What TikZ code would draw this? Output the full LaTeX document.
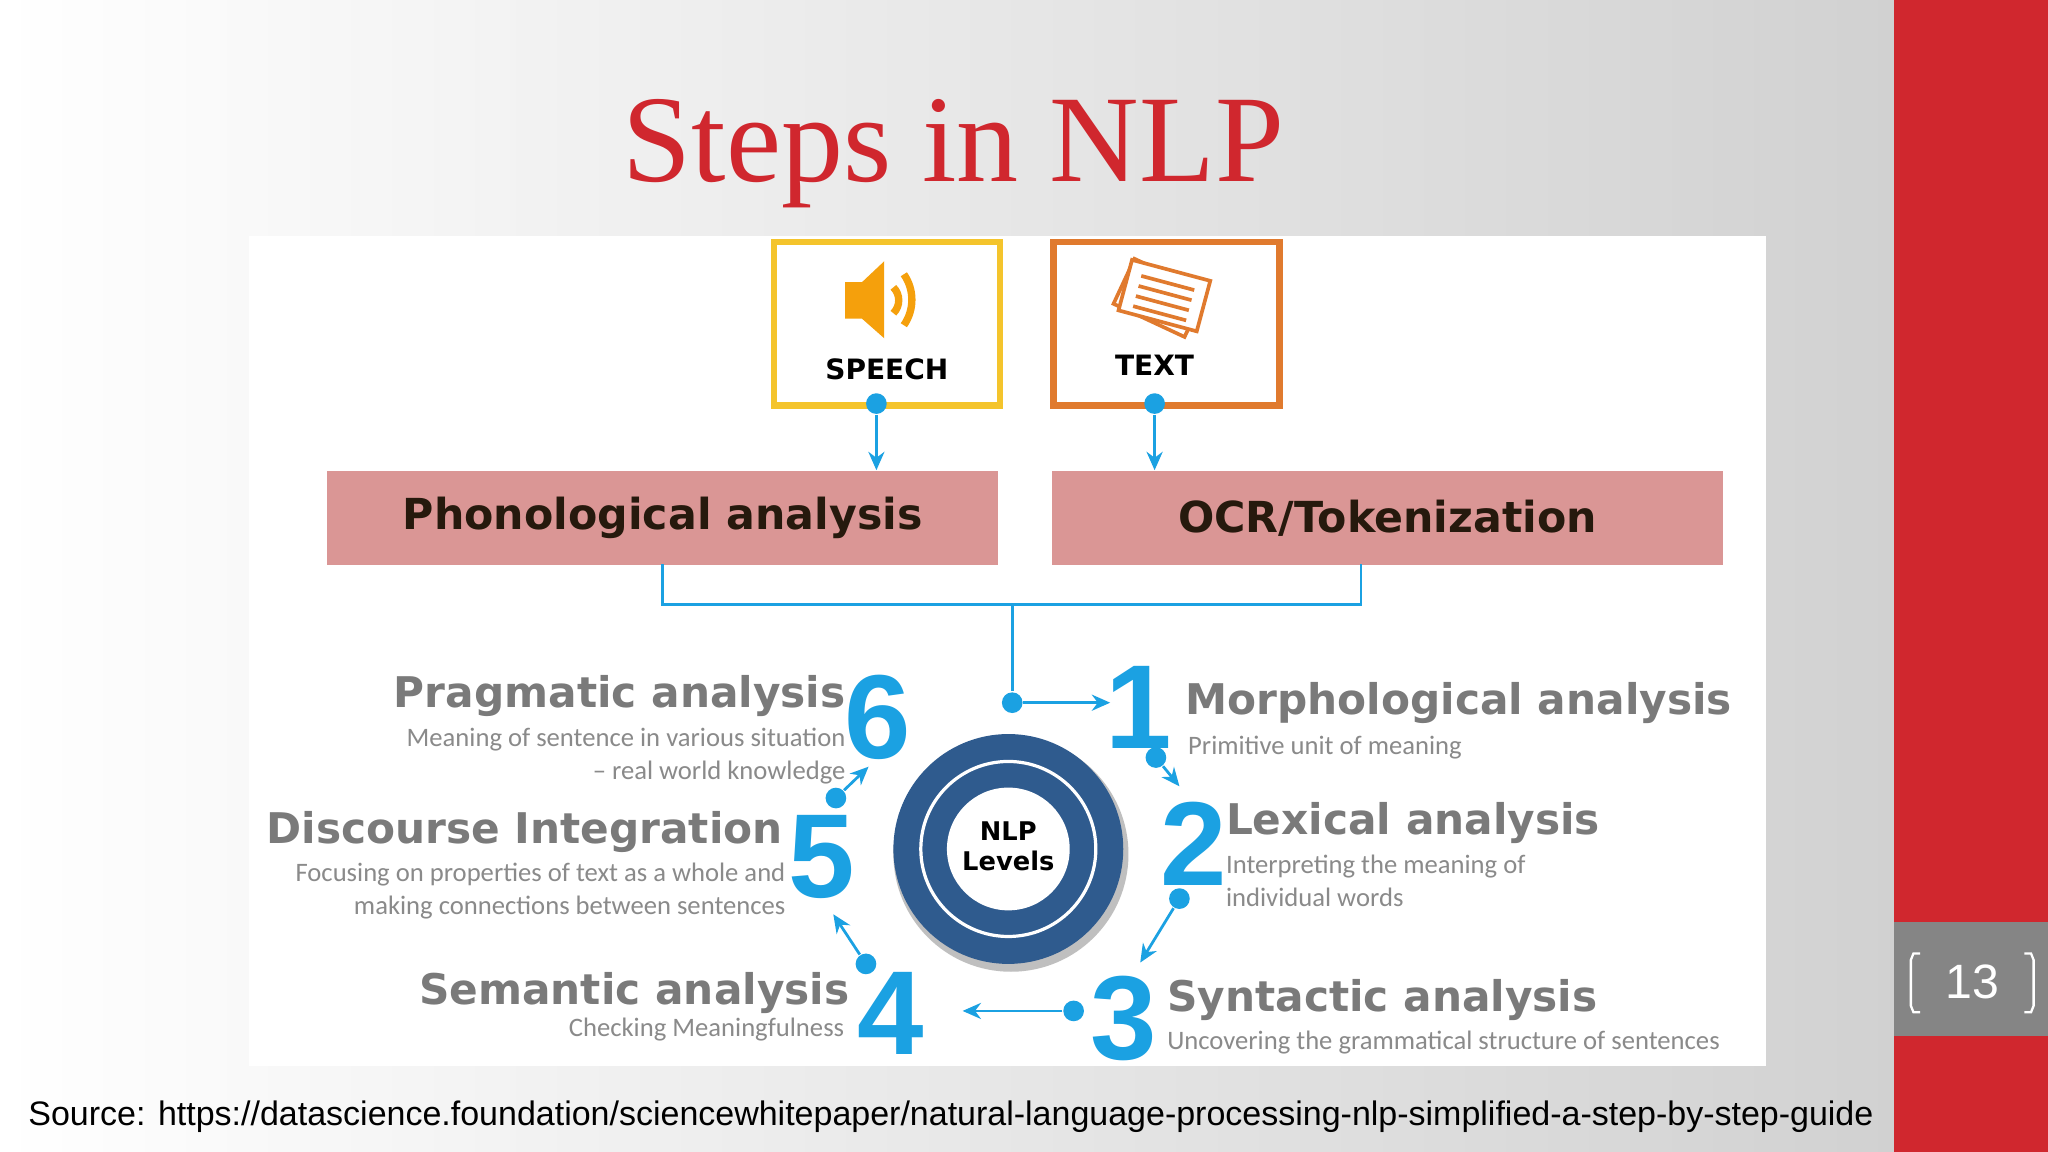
\documentclass[tikz,border=0pt]{standalone}
\usepackage{fontspec}
\setmainfont{Liberation Sans}
\newfontfamily\titlefont{Liberation Serif}
\newfontfamily\headfont{DejaVu Sans}
\newfontfamily\subfont{Carlito}
\usetikzlibrary{arrows.meta}
\definecolor{redbar}{HTML}{D0272E}
\definecolor{nlpblue}{HTML}{1BA1E2}
\definecolor{ring}{HTML}{2F5B8E}
\definecolor{pinkbox}{HTML}{DA9695}
\definecolor{headgray}{HTML}{7A7A7A}
\definecolor{subgray}{HTML}{8A8A8A}
\definecolor{speechy}{HTML}{F4C42C}
\definecolor{texto}{HTML}{E07A2E}
\definecolor{iconor}{HTML}{F5A00C}
\tikzset{
  conn/.style={nlpblue, line width=0.6pt},
  arr/.style={conn, -{Stealth[length=4pt,width=3.5pt]}},
  dotc/.style={circle, fill=nlpblue, inner sep=0pt, minimum size=4.5pt},
  num/.style={nlpblue, font=\bfseries\fontsize{26}{26}\selectfont, inner sep=0pt},
  head/.style={headgray, font=\headfont\bfseries\fontsize{9.2}{10}\selectfont, inner sep=0pt},
  sub/.style={subgray, font=\subfont\fontsize{5.8}{7.2}\selectfont, inner sep=0pt},
  pbox/.style={fill=pinkbox, inner sep=0pt, minimum width=5.13cm, minimum height=0.72cm, font=\headfont\bfseries\fontsize{9.3}{10}\selectfont, text=black!80!brown},
  inbox/.style={line width=1.4pt, inner sep=0pt, minimum width=1.73cm, minimum height=1.25cm, anchor=north west},
}
\begin{document}
\begin{tikzpicture}[x=0.01cm,y=-0.01cm]
\useasboundingbox (0,0) rectangle (1568,882);
\shade[left color=white, right color=black!18] (0,0) rectangle (1450,882);
\fill[redbar] (1450,0) rectangle (1568,882);
\fill[black!48] (1450,706) rectangle (1568,793);
\node[white, font=\fontsize{10.5}{11}\selectfont] (pg) at (1510,752) {13};
\draw[white, line width=0.5pt] (1470,730) -- (1465,730) -- (1463,735) -- (1463,770) -- (1465,775) -- (1470,775);
\draw[white, line width=0.5pt] (1550,730) -- (1555,730) -- (1557,735) -- (1557,770) -- (1555,775) -- (1550,775);
\node[redbar, font=\titlefont\fontsize{27}{28}\selectfont] (title) at (730,118) {Steps in NLP};
\fill[white] (191,181) rectangle (1352,816);
% input boxes
\node[draw=speechy, inbox] (speech) at (590,183) {};
\node[font=\headfont\bfseries\fontsize{6.1}{7}\selectfont] (speecht) at (679,283) {SPEECH};
\node[draw=texto, inbox] (text) at (804,183) {};
\node[font=\headfont\bfseries\fontsize{6.1}{7}\selectfont] (textt) at (884,280) {TEXT};
% speaker icon
\fill[iconor] (647,216) -- (660,216) -- (677,200) -- (677,259) -- (660,244) -- (647,244) -- cycle;
\draw[iconor, line width=1.6pt] (684,220) arc[start angle=135, end angle=225, radius=-14];
\draw[iconor, line width=1.6pt] (692,210) arc[start angle=145, end angle=215, radius=-34];
% text icon
\begin{scope}[shift={(890,228)}, rotate=-15]
  \draw[texto, fill=white, line width=0.8pt, rotate=-10] (-32,-18) rectangle (28,20);
  \draw[texto, fill=white, line width=0.8pt] (-30,-22) rectangle (32,18);
  \foreach \yy in {-12,-4,4,12} \draw[texto, line width=0.8pt] (-20,\yy) -- (22,\yy);
\end{scope}
% pink boxes
\node[pbox, anchor=north west] (phon) at (250,360) {Phonological analysis};
\node[pbox, anchor=north west] (ocr) at (805,360) {OCR/Tokenization};
\node[dotc] (d1) at (671,309) {};
\node[dotc] (d2) at (884,309) {};
\draw[arr] (d1) -- (phon.north -| d1);
\draw[arr] (d2) -- (ocr.north -| d2);
\coordinate (pb) at (507,432);
\coordinate (ob) at (1042,432);
\coordinate (jn) at (775,463);
\draw[conn] (pb) |- (jn) -| (ob);
\node[dotc] (d3) at (775,538) {};
\coordinate (e1) at (850,538);
\draw[conn] (jn) -- (d3);
\draw[arr] (d3) -- (e1);
% circle
\fill[black!25] (774,654) circle (90);
\fill[ring] (772,650) circle (88);
\draw[white, line width=0.7pt] (772,650) circle (67);
\fill[white] (772,650) circle (47);
\node[font=\headfont\bfseries\fontsize{5.6}{6.6}\selectfont, align=center] (nlp) at (772,648) {NLP\\Levels};
% numbers
\node[num] (n1) at (872,542) {1};
\node[num] (n2) at (914,646) {2};
\node[num] (n3) at (860,780) {3};
\node[num] (n4) at (682,776) {4};
\node[num] (n5) at (629,656) {5};
\node[num] (n6) at (672,549) {6};
% headings
\node[head, anchor=west] (h1) at (907,538) {Morphological analysis};
\node[sub, anchor=west] (s1) at (909,572) {Primitive unit of meaning};
\node[head, anchor=west] (h2) at (938,630) {Lexical analysis};
\node[sub, anchor=north west, align=left] (s2) at (938,654) {Interpreting the meaning of\\individual words};
\node[head, anchor=west] (h3) at (893,766) {Syntactic analysis};
\node[sub, anchor=west] (s3) at (893,798) {Uncovering the grammatical structure of sentences};
\node[head, anchor=east] (h4) at (651,760) {Semantic analysis};
\node[sub, anchor=east] (s4) at (647,788) {Checking Meaningfulness};
\node[head, anchor=east] (h5) at (600,637) {Discourse Integration};
\node[sub, anchor=north east, align=right] (s5) at (602,660) {Focusing on properties of text as a whole and\\making connections between sentences};
\node[head, anchor=east] (h6) at (648,533) {Pragmatic analysis};
\node[sub, anchor=north east, align=right] (s6) at (648,557) {Meaning of sentence in various situation\\– real world knowledge};
% small arrows
\node[dotc] (a1) at (885,580) {};
\coordinate (b1) at (903,602);
\draw[arr] (a1) -- (b1);
\node[dotc] (a2) at (903,688) {};
\coordinate (b2) at (873,737);
\draw[arr] (a2) -- (b2);
\node[dotc] (a3) at (822,774) {};
\coordinate (b3) at (737,774);
\draw[arr] (a3) -- (b3);
\node[dotc] (a4) at (663,738) {};
\coordinate (b4) at (638,700);
\draw[arr] (a4) -- (b4);
\node[dotc] (a5) at (640,611) {};
\coordinate (b5) at (665,587);
\draw[arr] (a5) -- (b5);
\node[anchor=west, font=\fontsize{7.4}{8}\selectfont, inner sep=0pt] (src) at (21,855) {Source: https://datascience.foundation/sciencewhitepaper/natural-language-processing-nlp-simplified-a-step-by-step-guide};
\end{tikzpicture}
\end{document}
